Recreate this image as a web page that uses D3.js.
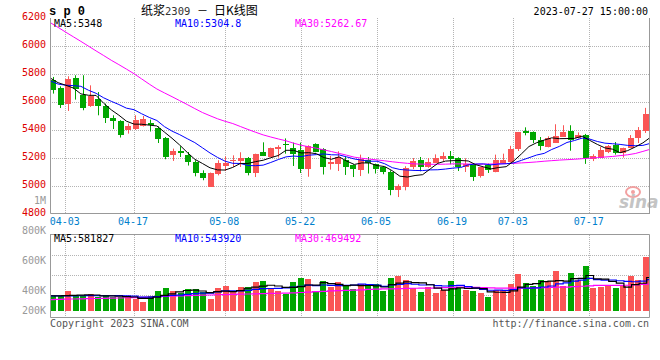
<!DOCTYPE html>
<html>
<head>
<meta charset="utf-8">
<script src="https://cdn.jsdelivr.net/npm/d3@7"></script>
<style>
  body { margin: 0; background: #fff; }
  svg { display: block; }
  text { font-family: "DejaVu Sans Mono", "Liberation Mono", monospace; font-size: 10px; }
</style>
</head>
<body>
<svg id="chart" width="660" height="360"></svg>
<script>
// trading days shown (MM-DD), 2023
var dates = ["03-30","03-31","04-03","04-04","04-06","04-07","04-10","04-11","04-12","04-13",
  "04-14","04-17","04-18","04-19","04-20","04-21","04-24","04-25","04-26","04-27",
  "04-28","05-04","05-05","05-08","05-09","05-10","05-11","05-12","05-15","05-16",
  "05-17","05-18","05-19","05-22","05-23","05-24","05-25","05-26","05-29","05-30",
  "05-31","06-01","06-02","06-05","06-06","06-07","06-08","06-09","06-12","06-13",
  "06-14","06-15","06-16","06-19","06-20","06-21","06-26","06-27","06-28","06-29",
  "06-30","07-03","07-04","07-05","07-06","07-07","07-10","07-11","07-12","07-13",
  "07-14","07-17","07-18","07-19","07-20","07-21","07-24","07-25","07-26","07-27"];

var opens = [5760,5698,5586,5774,5650,5571,5619,5569,5486,5464,
  5396,5405,5431,5450,5412,5343,5221,5250,5224,5171,
  5096,4998,5089,5141,5176,5179,5198,5093,5241,5207,
  5264,5298,5274,5255,5121,5298,5262,5155,5157,5189,
  5148,5112,5184,5155,5136,5100,4971,4993,5134,5184,
  5136,5164,5189,5212,5198,5136,5148,5071,5148,5098,
  5171,5168,5267,5393,5384,5326,5284,5307,5350,5393,
  5339,5362,5193,5203,5243,5291,5232,5274,5346,5392];
var highs = [5779,5712,5784,5791,5791,5719,5671,5589,5505,5470,
  5446,5505,5500,5474,5426,5350,5267,5284,5243,5184,
  5112,5096,5184,5212,5219,5241,5207,5231,5312,5274,
  5291,5340,5310,5310,5291,5305,5270,5215,5248,5207,
  5155,5224,5207,5160,5140,5112,5012,5141,5200,5207,
  5200,5226,5241,5250,5205,5198,5155,5136,5160,5224,
  5231,5287,5386,5419,5390,5350,5355,5441,5434,5434,
  5383,5372,5227,5279,5293,5314,5274,5364,5421,5558];
var lows = [5660,5557,5536,5617,5541,5565,5505,5450,5407,5346,
  5374,5400,5425,5389,5307,5191,5179,5207,5146,5069,
  5041,4998,5076,5107,5136,5136,5076,5064,5214,5207,
  5203,5231,5143,5093,5066,5241,5082,5117,5107,5079,
  5064,5071,5089,5089,5084,4934,4921,4969,5121,5105,
  5130,5164,5179,5155,5107,5100,5036,5060,5093,5098,
  5165,5168,5250,5362,5307,5255,5276,5307,5350,5252,
  5339,5158,5178,5203,5235,5224,5203,5274,5307,5379];
var closes = [5690,5579,5767,5698,5557,5641,5571,5486,5467,5364,
  5426,5469,5479,5436,5336,5205,5250,5239,5171,5089,
  5057,5096,5164,5164,5184,5198,5093,5231,5214,5274,
  5276,5293,5229,5122,5287,5242,5136,5171,5207,5136,
  5119,5193,5164,5119,5100,4969,5000,5131,5177,5131,
  5171,5200,5212,5189,5136,5160,5064,5136,5112,5187,
  5189,5264,5386,5379,5326,5284,5346,5355,5386,5331,
  5362,5196,5212,5260,5284,5236,5270,5343,5403,5512];

var ma5 = [5770,5738,5720,5700,5658,5648,5647,5591,5544,5506,
  5463,5442,5441,5435,5429,5385,5341,5293,5240,5191,
  5161,5130,5115,5114,5133,5161,5161,5174,5184,5202,
  5218,5255,5255,5236,5238,5231,5203,5191,5208,5178,
  5154,5165,5164,5146,5139,5109,5070,5064,5075,5081,
  5122,5162,5178,5181,5182,5179,5152,5137,5122,5132,
  5138,5179,5229,5282,5309,5328,5344,5338,5339,5340,
  5356,5326,5297,5272,5263,5238,5253,5279,5308,5348];
var ma10 = [5750,5728,5720,5717,5712,5684,5662,5630,5605,5582,
  5556,5545,5516,5490,5468,5424,5392,5367,5338,5310,
  5273,5236,5204,5177,5162,5161,5146,5145,5149,5168,
  5189,5208,5214,5210,5220,5224,5229,5223,5222,5208,
  5193,5184,5177,5177,5159,5131,5118,5114,5111,5110,
  5115,5116,5121,5128,5132,5151,5157,5158,5151,5157,
  5159,5165,5183,5202,5221,5233,5261,5283,5311,5325,
  5342,5335,5318,5306,5302,5297,5290,5288,5290,5305];
var ma30 = [6166,6133,6099,6066,6033,5999,5965,5932,5898,5867,
  5835,5802,5765,5728,5693,5665,5638,5610,5582,5553,
  5525,5502,5480,5462,5446,5425,5404,5384,5365,5350,
  5336,5323,5306,5291,5280,5270,5258,5246,5233,5220,
  5206,5198,5192,5186,5180,5173,5167,5162,5158,5156,
  5155,5155,5156,5158,5158,5157,5156,5156,5157,5158,
  5160,5162,5165,5168,5172,5177,5181,5185,5188,5191,
  5195,5199,5203,5207,5211,5217,5223,5232,5247,5263];

// volume, thousands of lots
var volumes = [260,255,342,260,255,290,243,272,243,243,
  243,213,151,255,342,404,342,318,376,376,
  324,203,394,428,330,411,411,498,515,399,
  347,300,498,567,550,330,515,416,498,446,
  376,468,428,468,347,573,607,533,399,324,
  416,312,359,520,394,370,347,312,243,359,
  359,468,637,481,428,533,515,689,428,654,
  538,776,394,411,446,394,428,607,533,937];
var volMa5 = [265,262,268,270,274,280,278,264,261,258,
  249,243,219,221,241,273,299,332,356,363,
  347,319,335,345,336,353,395,416,433,447,
  434,412,412,422,452,449,492,476,462,441,
  450,441,443,437,417,457,485,506,492,487,
  456,397,362,386,400,391,398,389,333,326,
  324,348,413,461,475,509,519,529,519,564,
  565,617,558,555,513,484,415,457,482,582];
var volMa10 = [262,262,264,264,265,266,266,265,265,266,
  265,260,241,241,250,261,271,275,289,302,
  310,309,333,351,350,350,357,375,389,391,
  394,403,414,428,450,442,452,444,442,447,
  450,466,459,450,429,454,463,474,465,452,
  456,441,434,439,444,423,397,375,360,363,
  358,373,401,397,400,417,434,471,490,519,
  537,568,544,537,538,525,516,508,518,544];
var volMa30 = [199,202,205,208,211,214,217,220,223,226,
  230,232,237,243,248,254,258,262,266,270,
  274,278,282,286,289,292,295,299,302,305,
  308,312,316,321,328,335,342,348,353,358,
  363,368,374,380,383,386,389,392,395,397,
  399,403,407,411,415,413,410,406,402,399,
  399,399,399,399,403,406,410,413,416,422,
  430,438,445,446,446,446,447,455,462,469];

var priceTicks = [6200, 6000, 5800, 5600, 5400, 5200, 5000, 4800];
var tickDates = ["04-03","04-17","05-08","05-22","06-05","06-19","07-03","07-17"];
var volTickLabels = ["800K", "600K", "400K", "200K"];
var priceLegend = ["MA5:5348", "MA10:5304.8", "MA30:5262.67"];
var volLegend = ["MA5:581827", "MA10:543920", "MA30:469492"];

// layout
var plotL = 50, plotR = 650, plotT = 18, plotB = 214;
var vTop = 235, vBottom = 318;
var volLabelY = [234, 264, 294, 314];
var legendX = [54, 175, 295];
var red = "#fa5555", green = "#00a600", grid = "#b4b4b4", frame = "#999";
var maColors = ["#000", "#0000ff", "#ff00ff"];

var svg = d3.select("#chart");
var idx = d3.range(dates.length);

var x = d3.scaleBand().domain(idx).range([plotL - 0.5, plotR - 0.5]).paddingInner(0.2).paddingOuter(0.1);
var xl = d3.scaleLinear().domain([0, dates.length - 1]).range([plotL + 0.5, plotR + 0.5]);
var y = d3.scaleLinear().domain([4800, 6200]).range([plotB, plotT]);
var yv = d3.scaleLinear().domain([0, 1320]).range([311, vTop]);

function px(v) { return Math.floor(v) + 0.5; }
function isUp(i) { return closes[i] >= opens[i]; }

svg.append("defs").append("clipPath").attr("id", "clip")
  .append("rect").attr("x", plotL).attr("y", 0).attr("width", plotR - plotL).attr("height", 360);

// grids
var g = svg.append("g");
g.selectAll(".hg").data(priceTicks.slice(1, -1)).enter().append("line")
  .attr("x1", plotL).attr("x2", plotR)
  .attr("y1", function(d) { return px(y(d)); }).attr("y2", function(d) { return px(y(d)); })
  .attr("stroke", grid).attr("stroke-dasharray", "1,1");
g.selectAll(".vg").data(tickDates).enter().append("line")
  .attr("x1", function(d) { return px(xl(dates.indexOf(d))); })
  .attr("x2", function(d) { return px(xl(dates.indexOf(d))); })
  .attr("y1", plotT).attr("y2", plotB)
  .attr("stroke", grid).attr("stroke-dasharray", "1,1");
g.selectAll(".vg2").data(tickDates).enter().append("line")
  .attr("x1", function(d) { return px(xl(dates.indexOf(d))); })
  .attr("x2", function(d) { return px(xl(dates.indexOf(d))); })
  .attr("y1", vTop).attr("y2", vBottom)
  .attr("stroke", grid).attr("stroke-dasharray", "1,1");
g.selectAll(".hv").data([1, 2, 3]).enter().append("line")
  .attr("x1", plotL).attr("x2", plotR)
  .attr("y1", function(d) { return vTop + 20 * d + 0.5; })
  .attr("y2", function(d) { return vTop + 20 * d + 0.5; })
  .attr("stroke", grid).attr("stroke-dasharray", "1,1");

// watermark
svg.append("ellipse").attr("cx", 633).attr("cy", 192).attr("rx", 7).attr("ry", 5)
  .attr("fill", "none").attr("stroke", "#f2a0a0").attr("stroke-width", 2);
svg.append("circle").attr("cx", 633).attr("cy", 192).attr("r", 2).attr("fill", "#f2a0a0");
svg.append("text").attr("x", 619).attr("y", 208).text("sina")
  .style("font-family", "'DejaVu Sans', sans-serif").style("font-size", "17px")
  .style("font-weight", "bold").style("font-style", "italic").attr("fill", "#c4c4c4");

// candles
var cg = svg.append("g");
cg.selectAll(".wick").data(idx).enter().append("line")
  .attr("x1", function(i) { return px(x(i) + x.bandwidth() / 2); })
  .attr("x2", function(i) { return px(x(i) + x.bandwidth() / 2); })
  .attr("y1", function(i) { return y(highs[i]); })
  .attr("y2", function(i) { return y(lows[i]); })
  .attr("stroke", function(i) { return isUp(i) ? red : green; });
cg.selectAll(".body").data(idx).enter().append("rect")
  .attr("x", function(i) { return Math.round(x(i)); })
  .attr("width", Math.round(x.bandwidth()))
  .attr("y", function(i) { return Math.round(y(Math.max(opens[i], closes[i]))); })
  .attr("height", function(i) { return Math.max(1, Math.round(Math.abs(y(opens[i]) - y(closes[i])))); })
  .attr("fill", function(i) { return isUp(i) ? red : green; });

// volume bars
svg.append("g").selectAll("rect").data(idx).enter().append("rect")
  .attr("x", function(i) { return Math.round(x(i)); })
  .attr("width", Math.round(x.bandwidth()))
  .attr("y", function(i) { return Math.round(yv(volumes[i])); })
  .attr("height", function(i) { return Math.round(yv(0)) - Math.round(yv(volumes[i])); })
  .attr("fill", function(i) { return isUp(i) ? red : green; });

// moving averages
var lineP = d3.line().x(function(d, i) { return xl(i); }).y(function(d) { return y(d); });
var lineV = d3.line().x(function(d, i) { return xl(i); }).y(function(d) { return yv(d); }).curve(d3.curveStep);
var lg = svg.append("g").attr("clip-path", "url(#clip)");
[ma30, ma10, ma5].forEach(function(s, k) {
  lg.append("path").attr("d", lineP(s)).attr("fill", "none")
    .attr("stroke", maColors[2 - k]).attr("stroke-width", 1);
});
[volMa30, volMa10, volMa5].forEach(function(s, k) {
  lg.append("path").attr("d", lineV(s)).attr("fill", "none")
    .attr("stroke", maColors[2 - k]).attr("stroke-width", 1.2);
});

// frames
var fr = svg.append("g").attr("stroke", frame).attr("fill", "none");
fr.append("path").attr("d", "M" + (plotL + 0.5) + "," + plotT + "V" + (plotB - 0.5) + "H" + plotR
  + "M" + (plotR - 0.5) + "," + plotT + "V" + plotB);
fr.append("path").attr("d", "M" + plotL + "," + (vTop - 0.5) + "H" + (plotR - 0.5) + "V" + (vBottom - 0.5)
  + "H" + (plotL + 0.5) + "V" + (vTop - 0.5));

// price axis labels
svg.selectAll(".pl").data(priceTicks).enter().append("text")
  .attr("x", 46).attr("y", function(d) { return y(d) + 1.5; })
  .attr("text-anchor", "end").attr("fill", "#dd0000").text(function(d) { return d; });
svg.append("text").attr("x", 46).attr("y", 204).attr("text-anchor", "end")
  .attr("fill", "#999").text("1M");

// date labels
svg.selectAll(".dl").data(tickDates).enter().append("text")
  .attr("x", function(d) { return xl(dates.indexOf(d)) - 1; })
  .attr("y", 225).attr("text-anchor", "middle").attr("fill", "#0080cc")
  .text(function(d) { return d; });

// volume labels
svg.selectAll(".vl").data(volTickLabels).enter().append("text")
  .attr("x", 46).attr("y", function(d, i) { return volLabelY[i]; })
  .attr("text-anchor", "end").attr("fill", "#999").text(function(d) { return d; });

// legends
svg.selectAll(".lgp").data(priceLegend).enter().append("text")
  .attr("x", function(d, i) { return legendX[i]; }).attr("y", 26.5)
  .attr("fill", function(d, i) { return maColors[i]; }).text(function(d) { return d; });
svg.selectAll(".lgv").data(volLegend).enter().append("text")
  .attr("x", function(d, i) { return legendX[i]; }).attr("y", 241.5)
  .attr("fill", function(d, i) { return maColors[i]; }).text(function(d) { return d; });

// header
svg.append("text").attr("x", 49).attr("y", 15).text("s p 0")
  .style("font-family", "'Liberation Mono', monospace").style("font-size", "12px")
  .style("font-weight", "bold").attr("fill", "#000");
var title = svg.append("text").attr("y", 15).attr("fill", "#000");
title.append("tspan").attr("x", 141).text("纸浆")
  .style("font-family", "'Noto Sans CJK SC', sans-serif").style("font-size", "12px");
title.append("tspan").text("2309").style("font-size", "10.5px").attr("fill", "#333");
title.append("tspan").attr("x", 197).text("－")
  .style("font-family", "'Noto Sans CJK SC', sans-serif").style("font-size", "11px");
title.append("tspan").attr("x", 214).text("日K线图")
  .style("font-family", "'Noto Sans CJK SC', sans-serif").style("font-size", "12px");
svg.append("text").attr("x", 648).attr("y", 15).attr("text-anchor", "end")
  .attr("fill", "#000").text("2023-07-27 15:00:00");

// footer
svg.append("text").attr("x", 50).attr("y", 327).attr("fill", "#555").text("Copyright 2023 SINA.COM");
svg.append("text").attr("x", 649).attr("y", 327).attr("text-anchor", "end")
  .attr("fill", "#555").text("http://finance.sina.com.cn");
</script>
</body>
</html>
